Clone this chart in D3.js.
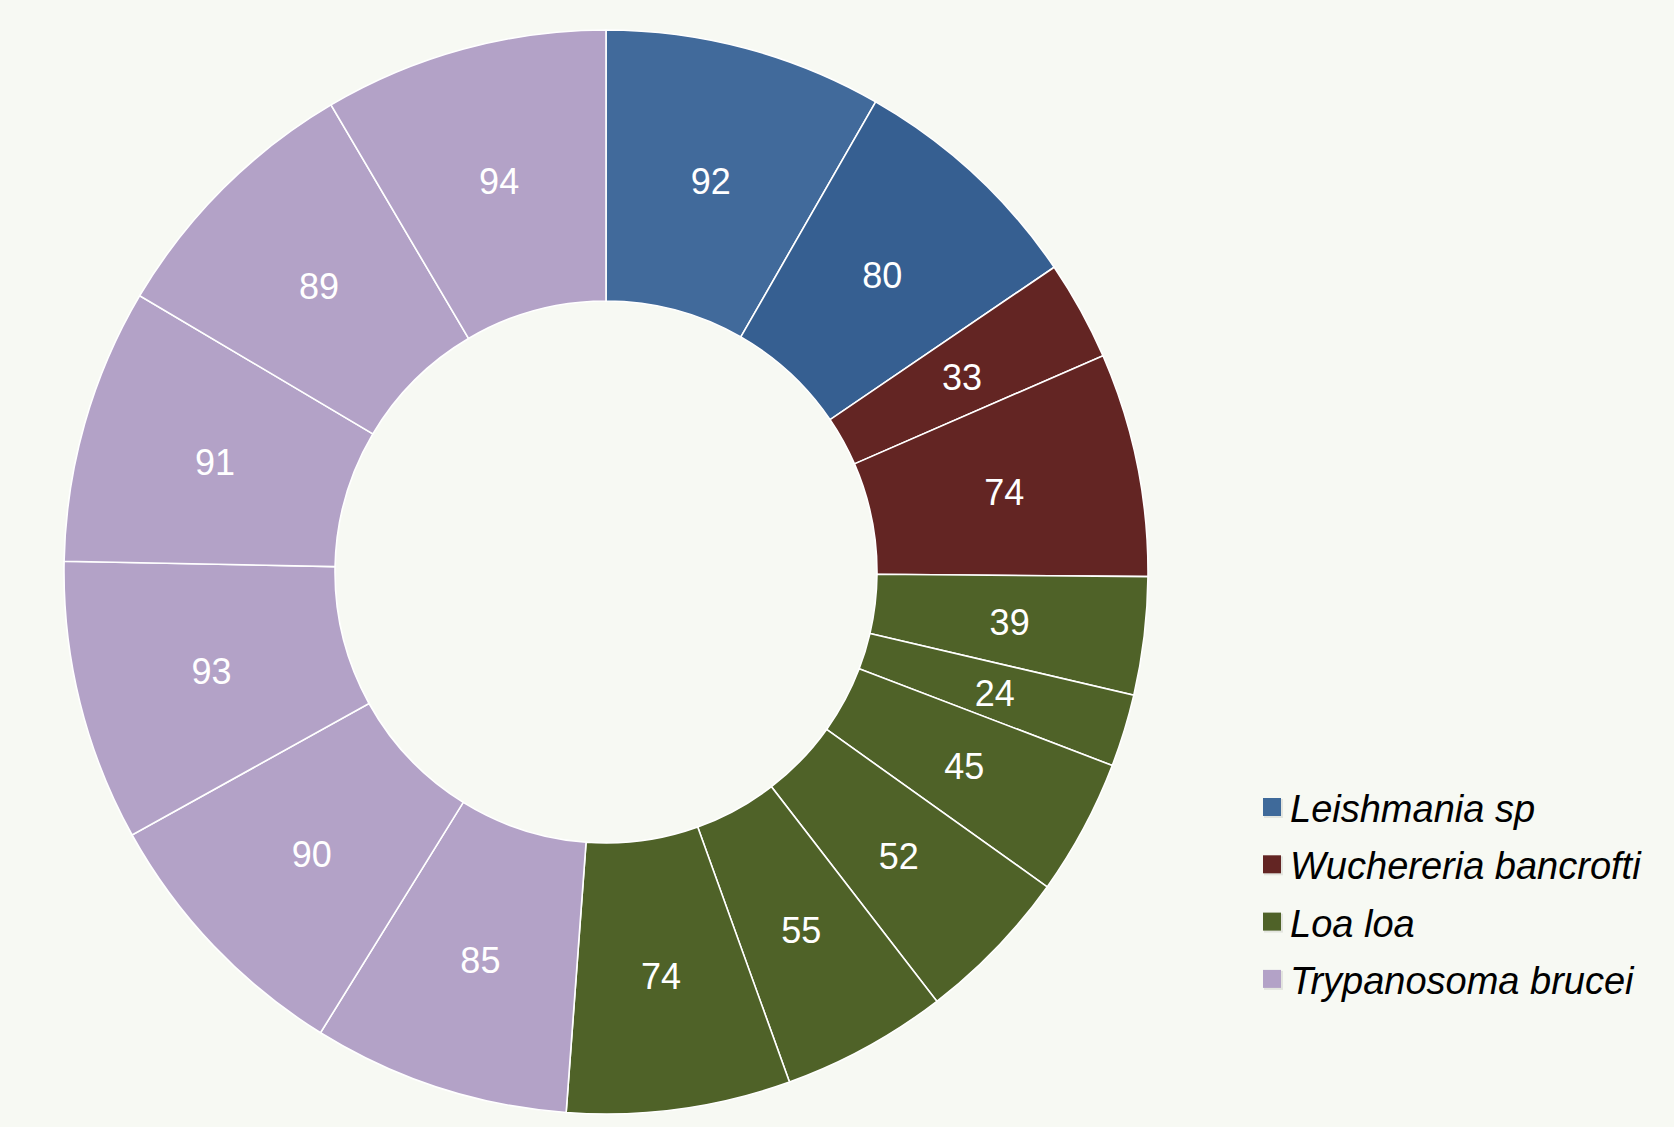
<!DOCTYPE html>
<html>
<head>
<meta charset="utf-8">
<script src="https://cdn.jsdelivr.net/npm/d3@7"></script>
<style>
html, body { margin: 0; padding: 0; background: #f7f9f3; }
svg { display: block; }
</style>
</head>
<body>
<svg id="chart" width="1674" height="1127"></svg>
<script>
// Data
const series = ["Leishmania sp", "Wuchereria bancrofti", "Loa loa", "Trypanosoma brucei"];
const seriesColors = ["#3f6a9a", "#632523", "#4f6228", "#b3a2c7"];
const sliceSeries = [0, 0, 1, 1, 2, 2, 2, 2, 2, 2, 3, 3, 3, 3, 3, 3];
const sliceValues = [92, 80, 33, 74, 39, 24, 45, 52, 55, 74, 85, 90, 93, 91, 89, 94];
const sliceColors = ["#416a9b", "#365f91", "#632523", "#632523", "#4f6228", "#4f6228", "#4f6228", "#4f6228", "#4f6228", "#4f6228", "#b3a2c7", "#b3a2c7", "#b3a2c7", "#b3a2c7", "#b3a2c7", "#b3a2c7"];

const svg = d3.select("#chart");
const cx = 606, cy = 572, rOuter = 542, rInner = 271;

const data = sliceValues.map((v, i) => ({ value: v, series: sliceSeries[i], color: sliceColors[i] }));
const pie = d3.pie().value(d => d.value).sort(null);
const arc = d3.arc().innerRadius(rInner).outerRadius(rOuter);
const arcs = pie(data);

const g = svg.append("g").attr("transform", `translate(${cx},${cy})`);
g.selectAll("path").data(arcs).join("path")
  .attr("d", arc)
  .attr("fill", d => d.data.color)
  .attr("stroke", "#ffffff")
  .attr("stroke-width", 1.6);

g.selectAll("text").data(arcs).join("text")
  .attr("transform", d => { const c = arc.centroid(d); return `translate(${c[0]},${c[1] + 2})`; })
  .attr("text-anchor", "middle")
  .attr("dominant-baseline", "central")
  .attr("font-family", "'Liberation Sans', Arial, sans-serif")
  .attr("font-size", 36)
  .attr("fill", "#ffffff")
  .text(d => d.data.value);

// Legend
const legend = svg.append("g").attr("transform", "translate(1263,808)");
const rows = legend.selectAll("g").data(series).join("g")
  .attr("transform", (d, i) => `translate(0,${i * 57.3})`);
rows.append("rect")
  .attr("x", 1).attr("y", -9).attr("width", 19).attr("height", 19)
  .attr("fill", "#e3e5df");
rows.append("rect")
  .attr("x", 0).attr("y", -10).attr("width", 18).attr("height", 18)
  .attr("fill", (d, i) => seriesColors[i]);
rows.append("text")
  .attr("x", 27).attr("y", 1)
  .attr("dominant-baseline", "central")
  .attr("font-family", "'Liberation Sans', Arial, sans-serif")
  .attr("font-style", "italic")
  .attr("font-size", 38)
  .attr("fill", "#000000")
  .text(d => d);
</script>
</body>
</html>
